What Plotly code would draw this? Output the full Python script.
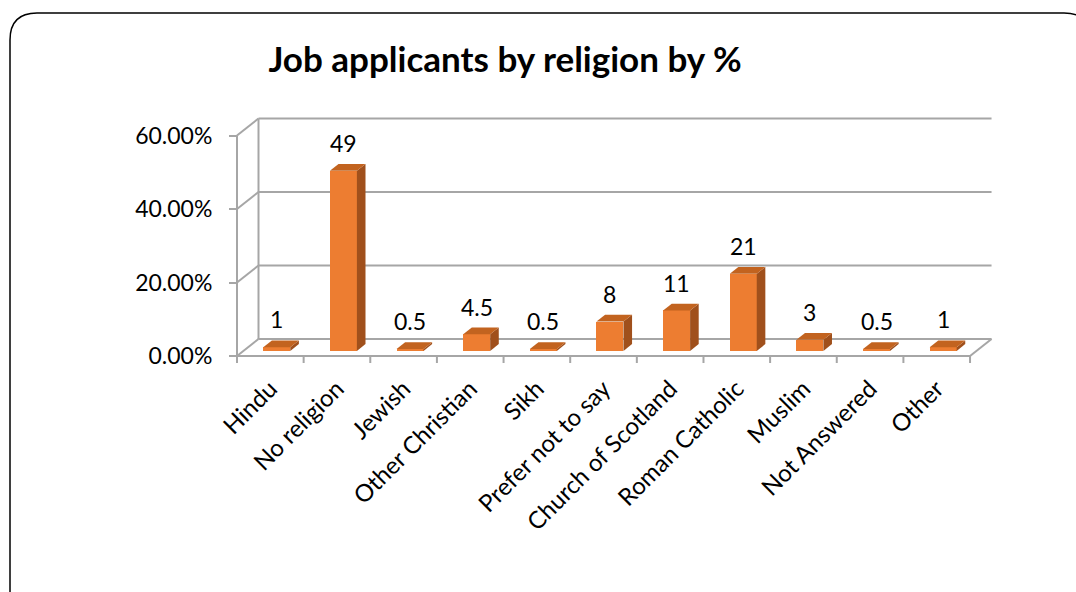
import plotly.graph_objects as go

# ---- data -------------------------------------------------------------
categories = ["Hindu", "No religion", "Jewish", "Other Christian", "Sikh",
              "Prefer not to say", "Church of Scotland", "Roman Catholic",
              "Muslim", "Not Answered", "Other"]
values = [1, 49, 0.5, 4.5, 0.5, 8, 11, 21, 3, 0.5, 1]
grid_levels = [0, 20, 40, 60]
grid_labels = ["0.00%", "20.00%", "40.00%", "60.00%"]
title_text = "Job applicants by religion by %"

# ---- styling / geometry ----------------------------------------------
FONT = "Lato"
FRONT = "#ED7D31"
SIDE = "#A0501C"
TOP = "#C2631F"
GRID = "#A6A6A6"

W, H = 1076, 592
PX_X = 66.64          # pixels per category slot
PX_Y = 3.675          # pixels per percentage point
ORIGIN = (237, 356)   # pixel position of (0, 0) on the front plane
PLOT_L, PLOT_R, PLOT_T, PLOT_B = 220, 1005, 100, 366

# depth offset of the back wall, in data units
DX = 21.5 / PX_X
DY = 17.0 / PX_Y
Z0, Z1 = 0.3, 0.7     # depth range occupied by the columns
BAR_W = 0.405

n = len(categories)
centers = [i + 0.5 for i in range(n)]

x_range = [(PLOT_L - ORIGIN[0]) / PX_X, (PLOT_R - ORIGIN[0]) / PX_X]
y_range = [(ORIGIN[1] - PLOT_B) / PX_Y, (ORIGIN[1] - PLOT_T) / PX_Y]


def paper_x(px):
    return (px - PLOT_L) / (PLOT_R - PLOT_L)


def paper_y(py):
    return (PLOT_B - py) / (PLOT_B - PLOT_T)


fig = go.Figure()

# ---- walls, floor and gridlines (drawn beneath the columns) ----------
shapes = []
line = dict(color=GRID, width=2)


def seg(x0, y0, x1, y1):
    shapes.append(dict(type="line", xref="x", yref="y", x0=x0, y0=y0,
                       x1=x1, y1=y1, line=line, layer="below"))


top = grid_levels[-1]
seg(0, 0, 0, top)                       # front vertical axis
seg(DX, DY, DX, top + DY)               # back-left wall edge
for g in grid_levels:
    seg(0, g, DX, g + DY)               # side-wall diagonals
    seg(DX, g + DY, n + DX, g + DY)     # back-wall gridlines
seg(0, 0, n, 0)                         # front floor edge
seg(n, 0, n + DX, DY)                   # right floor edge
for k in range(n + 1):                  # category boundary ticks
    seg(k, 0, k, -7 / PX_Y)

# ---- columns: front faces ---------------------------------------------
base = Z0 * DY
fig.add_trace(go.Bar(
    x=[c + Z0 * DX for c in centers], y=values, base=base, width=BAR_W,
    marker=dict(color=FRONT, line=dict(width=0)), hoverinfo="skip",
    showlegend=False))

# ---- columns: side and top faces --------------------------------------
ddx = (Z1 - Z0) * DX
ddy = (Z1 - Z0) * DY
for c, v in zip(centers, values):
    xl = c + Z0 * DX - BAR_W / 2
    xr = xl + BAR_W
    yb = base
    yt = base + v
    fig.add_trace(go.Scatter(
        x=[xr, xr + ddx, xr + ddx, xr, xr],
        y=[yb, yb + ddy, yt + ddy, yt, yb],
        fill="toself", fillcolor=SIDE, mode="lines", line=dict(width=0),
        hoverinfo="skip", showlegend=False))
    fig.add_trace(go.Scatter(
        x=[xl, xr, xr + ddx, xl + ddx, xl],
        y=[yt, yt, yt + ddy, yt + ddy, yt],
        fill="toself", fillcolor=TOP, mode="lines", line=dict(width=0),
        hoverinfo="skip", showlegend=False))

# ---- value labels -----------------------------------------------------
annotations = []
for c, v in zip(centers, values):
    annotations.append(dict(
        x=c + Z0 * DX, y=base + v + ddy, xref="x", yref="y",
        text=f"{v:g}", showarrow=False, yanchor="middle", yshift=21,
        font=dict(family=FONT, size=23, color="#000000")))

# ---- rounded chart frame ----------------------------------------------
r = 27
fl, ft, fr, fb = 10, 13, 1091, 620
frame_path = (
    f"M {paper_x(fl)},{paper_y(fb)} "
    f"L {paper_x(fl)},{paper_y(ft + r)} "
    f"Q {paper_x(fl)},{paper_y(ft)} {paper_x(fl + r)},{paper_y(ft)} "
    f"L {paper_x(fr - r)},{paper_y(ft)} "
    f"Q {paper_x(fr)},{paper_y(ft)} {paper_x(fr)},{paper_y(ft + r)} "
    f"L {paper_x(fr)},{paper_y(fb)}"
)
shapes.append(dict(type="path", xref="paper", yref="paper", path=frame_path,
                   line=dict(color="#000000", width=1.5), layer="above"))

fig.update_layout(
    width=W, height=H,
    margin=dict(l=PLOT_L, r=W - PLOT_R, t=PLOT_T, b=H - PLOT_B, pad=0),
    paper_bgcolor="white", plot_bgcolor="white",
    showlegend=False,
    title=dict(text=f"<b>{title_text}</b>", x=505 / W, xanchor="center",
               xref="container", y=1 - 60 / H, yref="container",
               yanchor="middle",
               font=dict(family=FONT, size=35, color="#000000")),
    xaxis=dict(range=x_range, anchor="free", position=paper_y(ORIGIN[1]),
               tickmode="array", tickvals=centers, ticktext=categories,
               tickangle=-45, ticks="", showline=False, showgrid=False,
               zeroline=False, ticklabelstandoff=13,
               tickfont=dict(family=FONT, size=24, color="#000000")),
    yaxis=dict(range=y_range, anchor="free", position=paper_x(ORIGIN[0]),
               tickmode="array", tickvals=grid_levels, ticktext=grid_labels,
               ticks="outside", ticklen=8, tickwidth=2,
               tickcolor=GRID, showline=False, showgrid=False,
               zeroline=False, ticklabelstandoff=12,
               tickfont=dict(family=FONT, size=23, color="#000000")),
    shapes=shapes,
    annotations=annotations,
    bargap=0,
)

fig.write_html("out.html")
